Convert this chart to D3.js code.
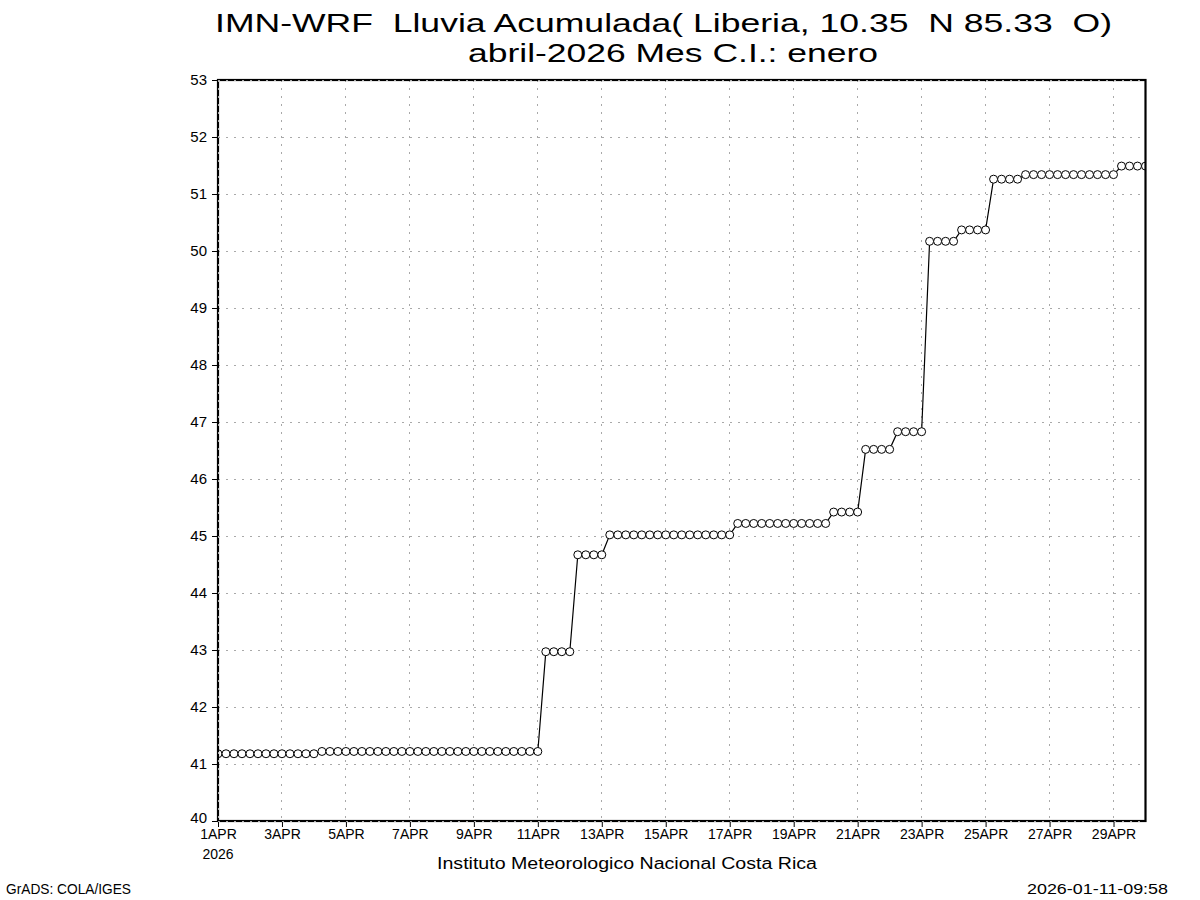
<!DOCTYPE html>
<html><head><meta charset="utf-8">
<script src="https://cdn.jsdelivr.net/npm/d3@7"></script>
<style>
body{margin:0;background:#fff;}
svg{display:block;}
text{font-family:"Liberation Sans",Arial,sans-serif;fill:#000;white-space:pre;}
</style></head><body>
<svg id="c" width="1200" height="900"></svg>
<script>
// ---- data ----
const titleLines = ["IMN-WRF  Lluvia Acumulada( Liberia, 10.35  N 85.33  O)", "abril-2026 Mes C.I.: enero"];
const startTime = "2026-04-01T00:00:00Z";
const endTime = "2026-04-30T00:00:00Z";
const stepHours = 6;
// accumulated rain (mm), one value every 6 h from 1APR 00Z to 30APR 00Z
const rainValues = [
  41.18,41.18,41.18,41.18,41.18,41.18,41.18,41.18,41.18,41.18,41.18,41.18,41.18,
  41.22,41.22,41.22,41.22,41.22,41.22,41.22,41.22,41.22,41.22,41.22,41.22,41.22,41.22,
  41.22,41.22,41.22,41.22,41.22,41.22,41.22,41.22,41.22,41.22,41.22,41.22,41.22,41.22,
  42.97,42.97,42.97,42.97,
  44.67,44.67,44.67,44.67,
  45.02,45.02,45.02,45.02,45.02,45.02,45.02,45.02,45.02,45.02,45.02,45.02,45.02,45.02,45.02,45.02,
  45.22,45.22,45.22,45.22,45.22,45.22,45.22,45.22,45.22,45.22,45.22,45.22,
  45.42,45.42,45.42,45.42,
  46.52,46.52,46.52,46.52,
  46.83,46.83,46.83,46.83,
  50.17,50.17,50.17,50.17,
  50.37,50.37,50.37,50.37,
  51.26,51.26,51.26,51.26,
  51.34,51.34,51.34,51.34,51.34,51.34,51.34,51.34,51.34,51.34,51.34,51.34,
  51.49,51.49,51.49,51.49
];
const yTickValues = [40,41,42,43,44,45,46,47,48,49,50,51,52,53];
const xTickDays = [1,3,5,7,9,11,13,15,17,19,21,23,25,27,29];
const xTickLabels = ["1APR","3APR","5APR","7APR","9APR","11APR","13APR","15APR","17APR","19APR","21APR","23APR","25APR","27APR","29APR"];
const xYearLabel = "2026";
const footerCenter = "Instituto Meteorologico Nacional Costa Rica";
const footerLeft = "GrADS: COLA/IGES";
const footerRight = "2026-01-11-09:58";

// ---- layout ----
const L = 218, R = 1145.5, T = 80, B = 821;
const svg = d3.select("#c");
svg.append("rect").attr("width",1200).attr("height",900).attr("fill","#fff");

const t0 = new Date(startTime), t1 = new Date(endTime);
const x = d3.scaleUtc().domain([t0, t1]).range([L, R]);
const y = d3.scaleLinear().domain([40, 53]).range([B, T]);
const points = rainValues.map((v, i) => ({t: d3.utcHour.offset(t0, i * stepHours), v}));
const tickDates = xTickDays.map(d => new Date(Date.UTC(2026, 3, d)));

const gridColor = "#a9a9a9";
// grid
const grid = svg.append("g");
grid.selectAll("line.h").data(yTickValues.filter(v => v > 40 && v < 53)).join("line")
  .attr("x1", L).attr("x2", R).attr("y1", d => y(d)).attr("y2", d => y(d))
  .attr("stroke", gridColor).attr("stroke-width", 1).attr("stroke-dasharray", "2,6")
  .attr("shape-rendering", "crispEdges");
grid.selectAll("line.v").data(tickDates.slice(1)).join("line")
  .attr("x1", d => x(d)).attr("x2", d => x(d)).attr("y1", T).attr("y2", B)
  .attr("stroke", gridColor).attr("stroke-width", 1).attr("stroke-dasharray", "2,6")
  .attr("shape-rendering", "crispEdges");

// data
svg.append("clipPath").attr("id", "clip").append("rect")
  .attr("x", L).attr("y", T).attr("width", R - L).attr("height", B - T);
const dataG = svg.append("g").attr("clip-path", "url(#clip)");
dataG.append("path").datum(points)
  .attr("d", d3.line().x(d => x(d.t)).y(d => y(d.v)))
  .attr("fill", "none").attr("stroke", "#000").attr("stroke-width", 1.2);
dataG.selectAll("circle").data(points).join("circle")
  .attr("cx", d => x(d.t)).attr("cy", d => y(d.v)).attr("r", 4)
  .attr("fill", "#fff").attr("stroke", "#000").attr("stroke-width", 1);

// frame
svg.append("rect").attr("x", L).attr("y", T).attr("width", R - L).attr("height", B - T)
  .attr("fill", "none").attr("stroke", "#000").attr("stroke-width", 2.2);
// gray dashes on frame edges
const edge = svg.append("g").attr("stroke", gridColor).attr("stroke-width", 1)
  .attr("stroke-dasharray", "2,6").attr("shape-rendering", "crispEdges");
edge.append("line").attr("x1", L).attr("x2", R).attr("y1", T).attr("y2", T);
edge.append("line").attr("x1", L).attr("x2", R).attr("y1", B).attr("y2", B);
edge.append("line").attr("x1", L).attr("x2", L).attr("y1", T).attr("y2", B);

// y axis
const yAxis = svg.append("g").attr("transform", `translate(${L - 1},0)`)
  .call(d3.axisLeft(y).tickValues(yTickValues).tickSize(5).tickPadding(5).tickFormat(d3.format("d")));
yAxis.select(".domain").remove();
yAxis.selectAll("line").attr("stroke", "#000");
yAxis.selectAll("text").attr("font-size", 15).attr("font-family", "Liberation Sans, Arial, sans-serif")
  .attr("y", d => d === 40 ? -3 : 0);

// x axis
const xAxis = svg.append("g").attr("transform", `translate(0,${B + 1})`)
  .call(d3.axisBottom(x).tickValues(tickDates).tickSize(5).tickPadding(3)
    .tickFormat((d, i) => xTickLabels[i]));
xAxis.select(".domain").remove();
xAxis.selectAll("line").attr("stroke", "#000");
xAxis.selectAll("text").attr("font-size", 14).attr("font-family", "Liberation Sans, Arial, sans-serif")
  .attr("dy", null).attr("y", 17);
svg.append("text").attr("x", x(tickDates[0])).attr("y", 858.5).attr("text-anchor", "middle")
  .attr("font-size", 14).text(xYearLabel);

// titles
svg.append("text").attr("x", 215).attr("y", 32).attr("font-size", 26)
  .attr("textLength", 897).attr("lengthAdjust", "spacingAndGlyphs").text(titleLines[0]);
svg.append("text").attr("x", 468).attr("y", 61.5).attr("font-size", 26)
  .attr("textLength", 410).attr("lengthAdjust", "spacingAndGlyphs").text(titleLines[1]);

// footers
svg.append("text").attr("x", 437).attr("y", 869).attr("font-size", 16)
  .attr("textLength", 380).attr("lengthAdjust", "spacingAndGlyphs").text(footerCenter);
svg.append("text").attr("x", 6).attr("y", 894).attr("font-size", 14)
  .attr("textLength", 125).attr("lengthAdjust", "spacingAndGlyphs").text(footerLeft);
svg.append("text").attr("x", 1027).attr("y", 894).attr("font-size", 14)
  .attr("textLength", 141).attr("lengthAdjust", "spacingAndGlyphs").text(footerRight);
</script>
</body></html>
